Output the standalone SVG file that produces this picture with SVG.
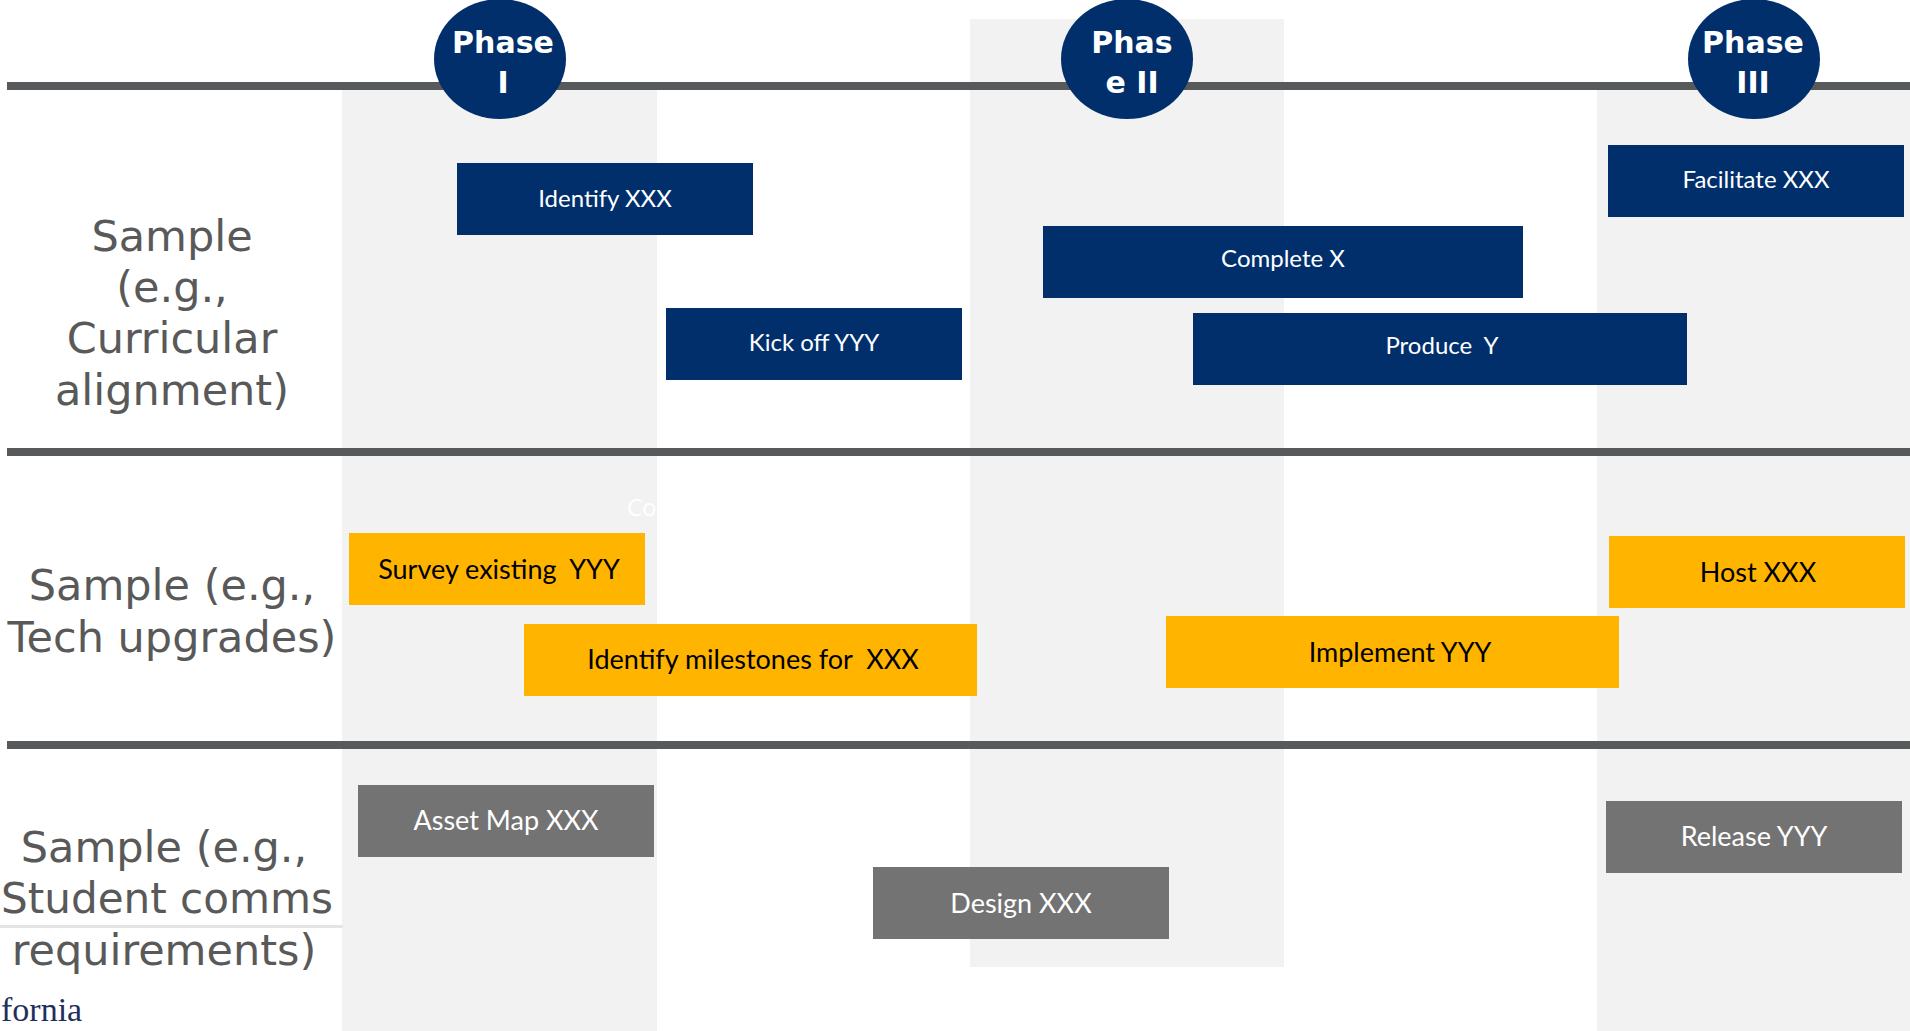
<svg xmlns="http://www.w3.org/2000/svg" width="1910" height="1031" viewBox="0 0 1910 1031">
  <style>
    .band { fill: #f2f2f2; }
    .divider { fill: #58595b; }
    .phase { fill: #002f6c; }
    .phase-text { font-family: "DejaVu Sans", sans-serif; font-weight: 700; font-size: 30px; fill: #ffffff; text-anchor: middle; }
    .row-label { font-family: "DejaVu Sans", sans-serif; font-size: 43px; fill: #595959; text-anchor: middle; }
    .navy { fill: #002f6c; }
    .gold { fill: #ffb500; }
    .grey { fill: #737373; }
    .task { font-family: Lato, "Liberation Sans", sans-serif; font-size: 24px; text-anchor: middle; white-space: pre; }
    .big { font-size: 27px; }
    .light { fill: #ffffff; }
    .dark { fill: #000000; }
  </style>

  <rect width="1910" height="1031" fill="#ffffff"/>

  <!-- phase column shading -->
  <g id="bands">
    <rect class="band" x="342" y="90" width="315" height="941"/>
    <rect class="band" x="970" y="19" width="314" height="948"/>
    <rect class="band" x="1597" y="90" width="313" height="941"/>
  </g>

  <!-- row dividers -->
  <g id="connectors">
    <rect class="divider" x="7" y="82" width="1903" height="8"/>
    <rect class="divider" x="7" y="448" width="1903" height="8"/>
    <rect class="divider" x="7" y="741" width="1903" height="8"/>
    <rect x="0" y="925" width="343" height="3" fill="#e4e4e4"/>
  </g>

  <!-- phase markers -->
  <g id="phase-1">
    <ellipse class="phase" cx="500" cy="59" rx="66" ry="60"/>
    <text class="phase-text" x="503" y="53">Phase</text>
    <text class="phase-text" x="503" y="93">I</text>
  </g>
  <g id="phase-2">
    <ellipse class="phase" cx="1127" cy="59" rx="66" ry="60"/>
    <text class="phase-text" x="1132" y="53">Phas</text>
    <text class="phase-text" x="1132" y="93">e II</text>
  </g>
  <g id="phase-3">
    <ellipse class="phase" cx="1754" cy="59" rx="66" ry="60"/>
    <text class="phase-text" x="1753" y="53">Phase</text>
    <text class="phase-text" x="1753" y="93">III</text>
  </g>

  <!-- row labels -->
  <g id="row-curricular">
    <text class="row-label" x="172" y="251">Sample</text>
    <text class="row-label" x="172" y="302">(e.g.,</text>
    <text class="row-label" x="172" y="353">Curricular</text>
    <text class="row-label" x="172" y="405">alignment)</text>
  </g>
  <g id="row-tech">
    <text class="row-label" x="172" y="600">Sample (e.g.,</text>
    <text class="row-label" x="172" y="652">Tech upgrades)</text>
  </g>
  <g id="row-comms">
    <text class="row-label" x="164" y="862">Sample (e.g.,</text>
    <text class="row-label" x="167" y="913" textLength="332" lengthAdjust="spacingAndGlyphs">Student comms</text>
    <text class="row-label" x="164" y="965">requirements)</text>
  </g>

  <!-- stray labels -->
  <text x="627" y="516" font-family="Open Sans, sans-serif" font-size="24" fill="#ffffff">Co</text>
  <text x="1" y="1021" font-family="Liberation Serif, serif" font-size="34" fill="#1f2f5c">fornia</text>

  <!-- curricular tasks -->
  <g id="identify-xxx">
    <rect class="navy" x="457" y="163" width="296" height="72"/>
    <text class="task light" x="605" y="207">Identify XXX</text>
  </g>
  <g id="kick-off-yyy">
    <rect class="navy" x="666" y="308" width="296" height="72"/>
    <text class="task light" x="814" y="351">Kick off YYY</text>
  </g>
  <g id="complete-x">
    <rect class="navy" x="1043" y="226" width="480" height="72"/>
    <text class="task light" x="1283" y="267">Complete X</text>
  </g>
  <g id="produce-y">
    <rect class="navy" x="1193" y="313" width="494" height="72"/>
    <text class="task light" x="1442" y="354">Produce  Y</text>
  </g>
  <g id="facilitate-xxx">
    <rect class="navy" x="1608" y="145" width="296" height="72"/>
    <text class="task light" x="1756" y="188">Facilitate XXX</text>
  </g>

  <!-- tech tasks -->
  <g id="survey-existing-yyy">
    <rect class="gold" x="349" y="533" width="296" height="72"/>
    <text class="task big dark" x="499" y="579">Survey existing  YYY</text>
  </g>
  <g id="identify-milestones">
    <rect class="gold" x="524" y="624" width="453" height="72"/>
    <text class="task big dark" x="753" y="669">Identify milestones for  XXX</text>
  </g>
  <g id="implement-yyy">
    <rect class="gold" x="1166" y="616" width="453" height="72"/>
    <text class="task big dark" x="1400" y="662">Implement YYY</text>
  </g>
  <g id="host-xxx">
    <rect class="gold" x="1609" y="536" width="296" height="72"/>
    <text class="task big dark" x="1758" y="582">Host XXX</text>
  </g>

  <!-- comms tasks -->
  <g id="asset-map-xxx">
    <rect class="grey" x="358" y="785" width="296" height="72"/>
    <text class="task big light" x="506" y="830">Asset Map XXX</text>
  </g>
  <g id="design-xxx">
    <rect class="grey" x="873" y="867" width="296" height="72"/>
    <text class="task big light" x="1021" y="913">Design XXX</text>
  </g>
  <g id="release-yyy">
    <rect class="grey" x="1606" y="801" width="296" height="72"/>
    <text class="task big light" x="1754" y="846">Release YYY</text>
  </g>
</svg>
